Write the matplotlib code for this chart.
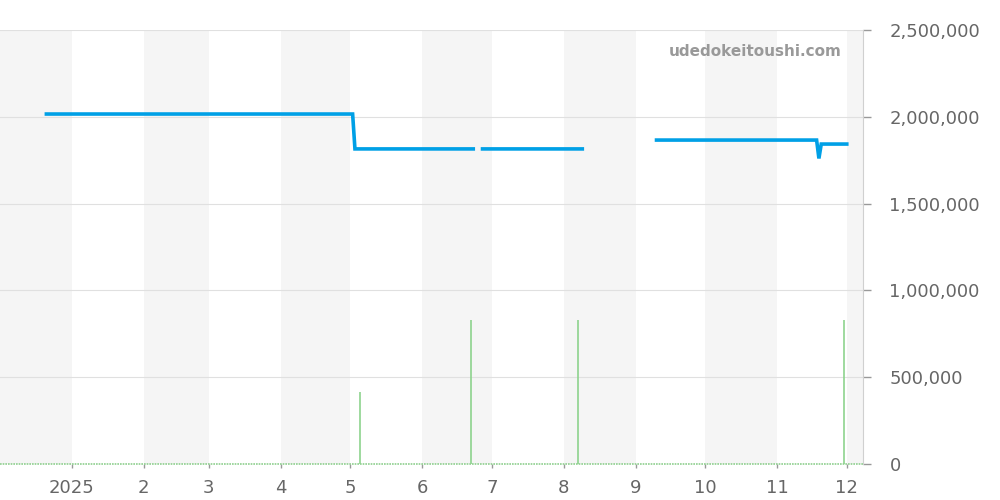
import numpy as np
import pandas as pd
import matplotlib
matplotlib.use("Agg")
import matplotlib.pyplot as plt
from matplotlib.ticker import FuncFormatter

# price line (NaN = gap in data)
price_dates = ["2024-12-21", "2025-05-02", "2025-05-03", "2025-06-23", "2025-06-25",
               "2025-06-27", "2025-08-09", "2025-08-20",
               "2025-09-10", "2025-11-18", "2025-11-19", "2025-11-20", "2025-12-01"]
price_values = [2016000, 2016000, 1815000, 1815000, np.nan,
                1815000, 1815000, np.nan,
                1866000, 1866000, 1760000, 1843000, 1843000]

# volume spikes
volume_dates = ["2025-05-05", "2025-06-22", "2025-08-07", "2025-11-30"]
volume_values = [415000, 830000, 830000, 830000]

x_start = pd.Timestamp("2024-12-01")
x_end = pd.Timestamp("2025-12-08")

price_x = pd.to_datetime(price_dates)
vol_x = pd.to_datetime(volume_dates)

fig, ax = plt.subplots(figsize=(10, 5), dpi=100)
fig.subplots_adjust(left=0.0, right=0.863, top=0.94, bottom=0.072)

# alternating month bands
months = pd.date_range("2024-12-01", "2026-01-01", freq="MS")
for i in range(len(months) - 1):
    if i % 2 == 0:
        ax.axvspan(months[i], months[i + 1], color="#f5f5f5", lw=0, zorder=0)

# zero line + volume spikes
ax.axhline(0, color="#8fd08f", lw=1.2, ls=(0, (1, 0.6)), zorder=1, clip_on=False)
ax.vlines(vol_x, 0, volume_values, color="#8dd38d", lw=1.2, zorder=2)

ax.plot(price_x, price_values, color="#00a0e6", lw=2.6, zorder=3,
        solid_joinstyle="miter")

ax.set_xlim(x_start, x_end)
ax.set_ylim(0, 2500000)

ax.yaxis.tick_right()
ax.set_yticks([0, 500000, 1000000, 1500000, 2000000, 2500000])
ax.yaxis.set_major_formatter(FuncFormatter(lambda v, p: f"{int(v):,}"))
ax.grid(axis="y", color="#e0e0e0", lw=0.8)
ax.set_axisbelow(True)

ticks = pd.date_range("2025-01-01", "2025-12-01", freq="MS")
ax.set_xticks(ticks)
ax.set_xticklabels(["2025"] + [str(m) for m in range(2, 13)])

ax.tick_params(axis="both", colors="#999999", labelcolor="#666666", labelsize=13,
               width=1)
ax.tick_params(axis="y", length=6, pad=13)
ax.tick_params(axis="x", length=3, pad=8)

for s in ["top", "left", "bottom"]:
    ax.spines[s].set_visible(False)
ax.spines["right"].set_color("#d0d0d0")

ax.text(0.975, 0.967, "udedokeitoushi.com", transform=ax.transAxes, ha="right", va="top",
        fontsize=11, fontweight="bold", color="#999999")

fig.savefig("out.png")
